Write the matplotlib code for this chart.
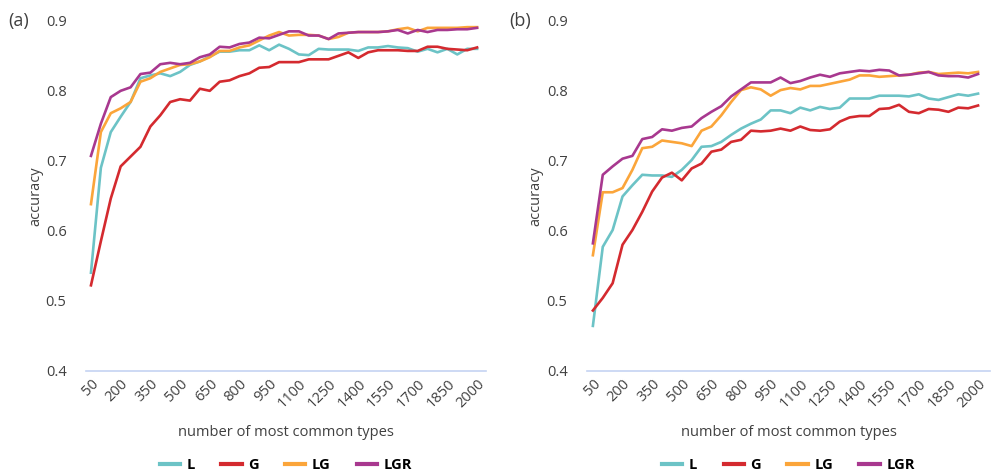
import matplotlib
matplotlib.use("Agg")
import matplotlib.pyplot as plt
import numpy as np

plt.rcParams["font.family"] = ["Open Sans", "DejaVu Sans"]

# number of most common types: 50, 100, ..., 2000
sizes = list(range(50, 2001, 50))
tick_labels = [str(s) for s in range(50, 2001, 150)]
series_names = ["L", "G", "LG", "LGR"]
colors = ["#6cc3c6", "#d42a2f", "#fba53a", "#a8388f"]

# panel (a)
a_L = [0.540, 0.690, 0.741, 0.763, 0.784, 0.818, 0.822, 0.825, 0.821, 0.827,
       0.837, 0.842, 0.849, 0.856, 0.856, 0.858, 0.858, 0.865, 0.858, 0.866,
       0.860, 0.852, 0.851, 0.860, 0.859, 0.859, 0.859, 0.857, 0.862, 0.862,
       0.864, 0.862, 0.861, 0.856, 0.860, 0.855, 0.860, 0.852, 0.860, 0.860]
a_G = [0.522, 0.585, 0.646, 0.692, 0.706, 0.720, 0.749, 0.765, 0.784, 0.788,
       0.786, 0.803, 0.800, 0.813, 0.815, 0.821, 0.825, 0.833, 0.834, 0.841,
       0.841, 0.841, 0.845, 0.845, 0.845, 0.850, 0.855, 0.847, 0.855, 0.858,
       0.858, 0.858, 0.857, 0.857, 0.863, 0.863, 0.860, 0.859, 0.858, 0.862]
a_LG = [0.638, 0.741, 0.768, 0.775, 0.784, 0.813, 0.818, 0.827, 0.832, 0.837,
        0.838, 0.842, 0.848, 0.857, 0.857, 0.862, 0.865, 0.872, 0.879, 0.884,
        0.879, 0.880, 0.880, 0.879, 0.874, 0.877, 0.883, 0.884, 0.884, 0.884,
        0.885, 0.888, 0.890, 0.885, 0.890, 0.890, 0.890, 0.890, 0.891, 0.891]
a_LGR = [0.707, 0.753, 0.791, 0.800, 0.805, 0.824, 0.826, 0.838, 0.840, 0.838,
         0.840, 0.848, 0.852, 0.863, 0.862, 0.867, 0.869, 0.876, 0.875, 0.880,
         0.885, 0.885, 0.879, 0.879, 0.874, 0.882, 0.883, 0.884, 0.884, 0.884,
         0.885, 0.887, 0.882, 0.887, 0.884, 0.887, 0.887, 0.888, 0.888, 0.890]

# panel (b)
b_L = [0.464, 0.577, 0.601, 0.649, 0.665, 0.680, 0.679, 0.679, 0.677, 0.687,
       0.701, 0.720, 0.721, 0.727, 0.737, 0.746, 0.753, 0.759, 0.772, 0.772,
       0.768, 0.776, 0.772, 0.777, 0.774, 0.776, 0.789, 0.789, 0.789, 0.793,
       0.793, 0.793, 0.792, 0.795, 0.789, 0.787, 0.791, 0.795, 0.793, 0.796]
b_G = [0.486, 0.504, 0.525, 0.580, 0.601, 0.627, 0.656, 0.676, 0.683, 0.672,
       0.689, 0.696, 0.713, 0.716, 0.727, 0.730, 0.743, 0.742, 0.743, 0.746,
       0.743, 0.749, 0.744, 0.743, 0.745, 0.756, 0.762, 0.764, 0.764, 0.774,
       0.775, 0.780, 0.770, 0.768, 0.774, 0.773, 0.770, 0.776, 0.775, 0.779]
b_LG = [0.565, 0.655, 0.655, 0.661, 0.687, 0.718, 0.720, 0.729, 0.727, 0.725,
        0.721, 0.743, 0.749, 0.765, 0.784, 0.801, 0.805, 0.802, 0.793, 0.801,
        0.804, 0.802, 0.807, 0.807, 0.810, 0.813, 0.816, 0.822, 0.822, 0.820,
        0.821, 0.822, 0.823, 0.826, 0.827, 0.824, 0.825, 0.826, 0.825, 0.827]
b_LGR = [0.582, 0.680, 0.692, 0.703, 0.707, 0.731, 0.734, 0.745, 0.743, 0.747,
         0.749, 0.761, 0.770, 0.778, 0.792, 0.802, 0.812, 0.812, 0.812, 0.819,
         0.811, 0.814, 0.819, 0.823, 0.820, 0.825, 0.827, 0.829, 0.828, 0.830,
         0.829, 0.822, 0.823, 0.825, 0.827, 0.822, 0.821, 0.821, 0.819, 0.824]

panels = [
    ("(a)", [a_L, a_G, a_LG, a_LGR], [0.0868, 0.218, 0.4036, 0.738], (25, 2045)),
    ("(b)", [b_L, b_G, b_LG, b_LGR], [0.5923, 0.218, 0.4066, 0.738], (20, 2060)),
]

fig = plt.figure(figsize=(9.91, 4.74), dpi=100)
text_color = "#404040"

for tag, data, rect, xlim in panels:
    ax = fig.add_axes(rect)
    for name, vals, c in zip(series_names, data, colors):
        ax.plot(sizes, vals, color=c, lw=1.9, label=name, solid_joinstyle="round")

    ax.set_xlim(*xlim)
    ax.set_ylim(0.4, 0.9)
    ax.set_yticks([0.4, 0.5, 0.6, 0.7, 0.8, 0.9])
    ax.set_yticklabels(["0.4", "0.5", "0.6", "0.7", "0.8", "0.9"])
    ax.set_xticks(range(50, 2001, 150))
    ax.set_xticklabels(tick_labels, rotation=45, ha="right", rotation_mode="anchor")
    ax.tick_params(length=0, labelsize=10.5, colors=text_color)
    ax.tick_params(axis="y", pad=14)
    ax.tick_params(axis="x", pad=4)

    for side in ["top", "right", "left"]:
        ax.spines[side].set_visible(False)
    ax.spines["bottom"].set_color("#c5d3f2")
    ax.spines["bottom"].set_linewidth(1.2)

    ax.set_xlabel("number of most common types", fontsize=10.5, color=text_color, labelpad=10)
    ax.set_ylabel("accuracy", fontsize=10.5, color=text_color, labelpad=2)

    fig.text(rect[0] - 0.078, 0.955, tag, fontsize=13, color=text_color, va="center")

    leg = ax.legend(loc="center", bbox_to_anchor=(0.5, -0.27), ncol=4, frameon=False,
                    handlelength=1.4, columnspacing=1.8, handletextpad=0.45,
                    prop={"weight": "bold", "size": 10.5})
    for h in leg.get_lines():
        h.set_linewidth(3)

fig.savefig("out.png", dpi=100)
